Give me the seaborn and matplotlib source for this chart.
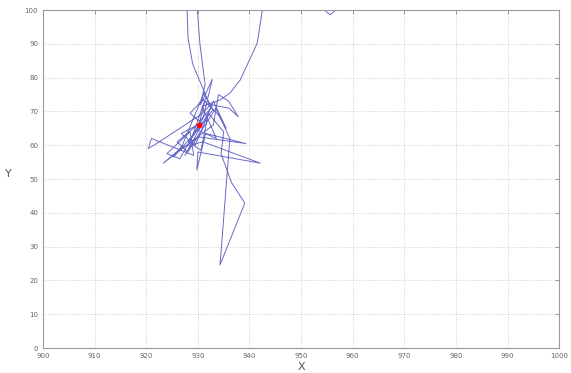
import matplotlib
matplotlib.use("Agg")
import matplotlib.pyplot as plt
import seaborn as sns

# trajectory (data units)
path_x = [929.7, 930.4, 931.4, 930.5, 932.8, 931.0, 929.0, 931.5, 930.2, 926.5,
          924.0, 928.5, 929.2, 921.0, 920.4, 922.0, 930.5, 932.5, 936.0, 937.8,
          936.0, 934.0, 933.0, 923.3, 927.0, 931.0, 942.1, 930.0, 929.8, 931.5,
          939.3, 930.0, 927.5, 932.0, 935.0, 934.5, 936.5, 939.1, 934.3, 936.2,
          933.5, 928.0, 926.0, 930.5, 928.5, 931.0, 934.0, 935.5, 933.0, 929.5,
          926.8, 931.8, 930.6, 928.2, 932.9, 931.2, 927.0, 925.3, 929.9, 933.6,
          932.0, 930.8, 934.3,
          936.2, 938.2, 941.5, 942.6, 948.0, 954.3, 955.6, 957.0, 945.0, 927.9,
          928.1, 929.0, 931.2, 932.5, 930.3]
path_y = [104.0, 90.0, 78.0, 72.0, 79.5, 68.0, 63.0, 74.0, 66.0, 56.0,
          57.5, 64.0, 57.0, 62.0, 59.0, 60.5, 69.0, 72.0, 71.0, 68.5,
          73.0, 75.0, 66.0, 54.7, 59.5, 61.0, 54.7, 58.0, 52.7, 63.5,
          60.5, 62.5, 57.0, 69.5, 64.0, 57.5, 49.0, 42.9, 24.6, 62.0,
          71.0, 58.0, 61.0, 66.8, 69.5, 73.5, 69.0, 65.0, 73.0, 60.0,
          63.5, 67.5, 58.5, 61.0, 70.5, 75.5, 60.0, 56.5, 64.5, 62.0,
          67.5, 71.5, 73.4,
          75.4, 79.3, 90.2, 101.0, 110.0, 100.3, 98.6, 100.3, 112.0, 101.0,
          91.7, 84.0, 76.0, 71.0, 67.0]

target_x = [930.2]
target_y = [66.0]

x_ticks = list(range(900, 1001, 10))
y_ticks = list(range(0, 101, 10))

sns.set_style("white")
plt.rcParams['font.family'] = ['DejaVu Sans']

fig = plt.figure(figsize=(5.71, 3.73), dpi=100)
ax = fig.add_axes([0.0753, 0.067, 0.904, 0.906])

sns.lineplot(x=path_x, y=path_y, sort=False, estimator=None, ax=ax,
             color="#5050c0", linewidth=0.7, alpha=0.85)
sns.scatterplot(x=target_x, y=target_y, ax=ax, color="red", marker="o",
                s=14, edgecolor="red", zorder=5)

ax.set_xlim(900, 1000)
ax.set_ylim(0, 100)
ax.set_xticks(x_ticks)
ax.set_yticks(y_ticks)
ax.tick_params(direction="in", length=3, width=0.6, colors="#888888",
               labelsize=5, labelcolor="#666666", top=True, right=True)
ax.grid(True, linestyle=":", color="#c4c4c4", linewidth=0.6)
for sp in ax.spines.values():
    sp.set_color("#999999")
    sp.set_linewidth(0.8)

ax.set_xlabel("X", fontsize=8, color="#555555", labelpad=2)
ax.set_ylabel("Y", fontsize=8, color="#555555", rotation=0, labelpad=12)

fig.savefig("out.png", dpi=100)
